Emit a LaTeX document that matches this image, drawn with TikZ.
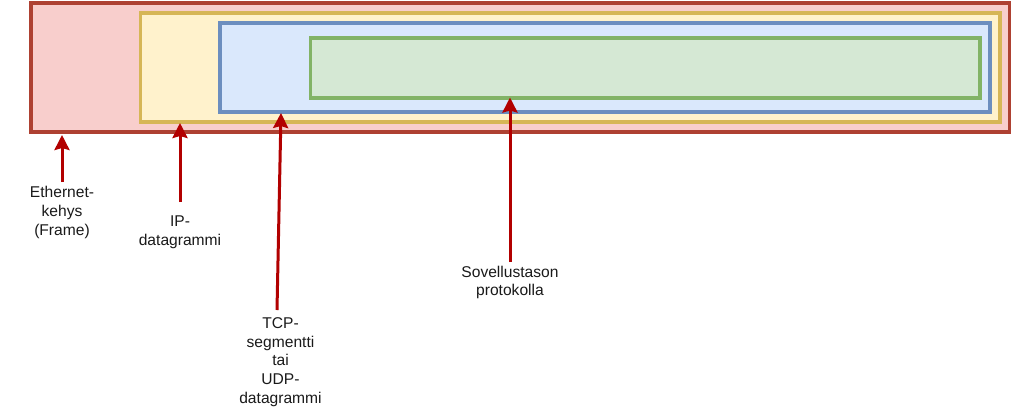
\documentclass[tikz,border=0pt]{standalone}
\usepackage{fontspec}
\setmainfont{Liberation Sans}
\usetikzlibrary{arrows.meta}
\definecolor{redfill}{HTML}{F8CECC}
\definecolor{redline}{HTML}{AE4132}
\definecolor{yelfill}{HTML}{FFF2CC}
\definecolor{yelline}{HTML}{D6B656}
\definecolor{bluefill}{HTML}{DAE8FC}
\definecolor{blueline}{HTML}{6C8EBF}
\definecolor{grnfill}{HTML}{D5E8D4}
\definecolor{grnline}{HTML}{82B366}
\definecolor{arrred}{HTML}{B20000}
\definecolor{txt}{HTML}{1A1A1A}
\tikzset{
  layer/.style={line width=3.9pt},
  lbl/.style={align=center, inner sep=0pt, text=txt, font=\fontsize{15.6}{18.7}\selectfont},
  arr/.style={draw=arrred, line width=3pt, -{Stealth[length=15pt,width=15pt,inset=2pt]}}
}
\begin{document}
\begin{tikzpicture}[x=1pt,y=-1pt]
\useasboundingbox (0,0) rectangle (1013,413);
\fill[white] (0,0) rectangle (1013,413);
% nested layers
\draw[layer, draw=redline, fill=redfill] (31.3,3.3) rectangle (1009.5,131.7);
\draw[layer, draw=yelline, fill=yelfill] (140.5,13) rectangle (999.7,122);
\draw[layer, draw=blueline, fill=bluefill] (220.3,22.8) rectangle (990,112.2);
\draw[layer, draw=grnline, fill=grnfill] (310.5,37.8) rectangle (980.3,97.7);
% arrow tips
\coordinate (teth) at (62,135);
\coordinate (tip) at (180,123);
\coordinate (ttcp) at (281,113);
\coordinate (tapp) at (510,97.5);
% labels
\node[lbl] (eth) at (62,212.5) {Ethernet-\\kehys\\(Frame)};
\node[lbl] (ip) at (180,232.5) {IP-\\datagrammi};
\node[lbl] (tcp) at (280.5,362) {TCP-\\segmentti\\tai\\UDP-\\datagrammi};
\node[lbl] (app) at (510,282.5) {Sovellustason\\protokolla};
% arrows
\draw[arr] (62,182) -- (teth);
\draw[arr] (180,202) -- (tip);
\draw[arr] (277,310) -- (ttcp);
\draw[arr] (510,262) -- (tapp);
\end{tikzpicture}
\end{document}
